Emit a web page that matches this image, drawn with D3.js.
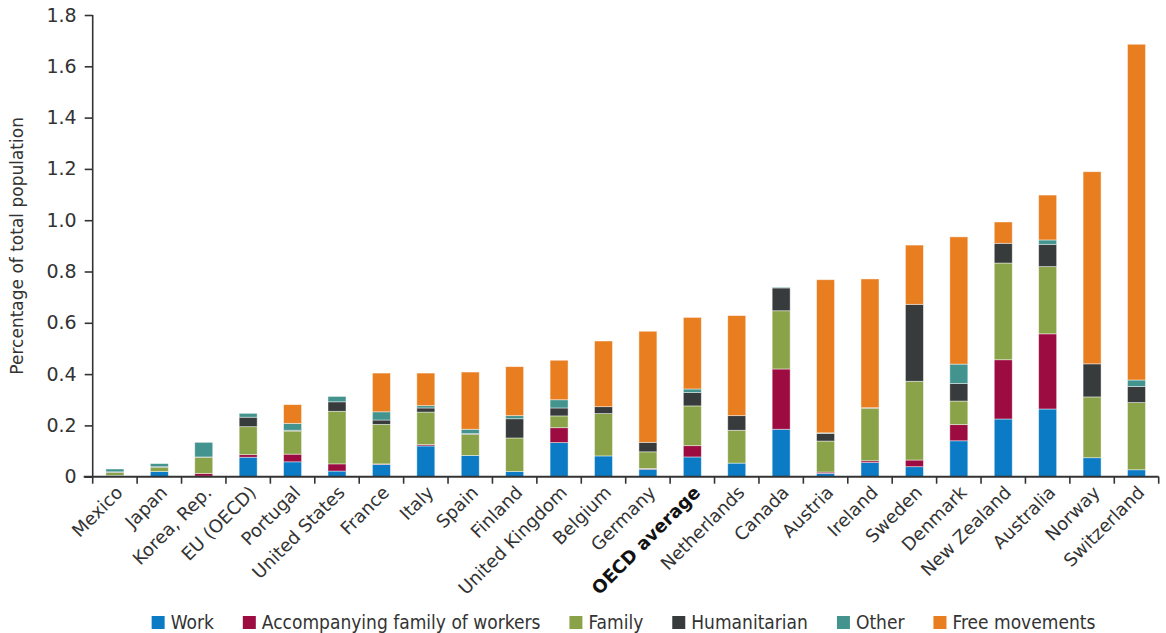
<!DOCTYPE html>
<html><head><meta charset="utf-8">
<script src="https://cdn.jsdelivr.net/npm/d3@7"></script>
<style>body{margin:0;background:#fff;} svg{display:block;}</style>
</head><body>
<svg id="chart" width="1166" height="633"></svg>
<script>
const categories = ["Mexico","Japan","Korea, Rep.","EU (OECD)","Portugal","United States","France","Italy","Spain","Finland","United Kingdom","Belgium","Germany","OECD average","Netherlands","Canada","Austria","Ireland","Sweden","Denmark","New Zealand","Australia","Norway","Switzerland"];
const work   = [0.005,0.020,0.002,0.076,0.058,0.022,0.048,0.120,0.083,0.020,0.133,0.081,0.029,0.077,0.053,0.185,0.013,0.055,0.039,0.140,0.225,0.264,0.074,0.027];
const accFam = [0,0,0.011,0.010,0.030,0.028,0.002,0.005,0,0,0.058,0,0.003,0.044,0,0.235,0.005,0.007,0.026,0.063,0.231,0.293,0,0];
const family = [0.012,0.017,0.063,0.109,0.090,0.205,0.154,0.127,0.082,0.131,0.046,0.165,0.065,0.155,0.128,0.227,0.121,0.205,0.307,0.092,0.377,0.262,0.237,0.262];
const humanitarian = [0.002,0.002,0.001,0.037,0.003,0.037,0.017,0.016,0.003,0.075,0.031,0.027,0.037,0.052,0.057,0.089,0.030,0.002,0.300,0.068,0.077,0.087,0.129,0.063];
const other  = [0.011,0.012,0.057,0.015,0.027,0.021,0.032,0.009,0.017,0.012,0.032,0,0,0.014,0,0.003,0.002,0,0,0.076,0,0.017,0,0.025];
const freeMov = [0,0,0,0,0.073,0,0.151,0.127,0.223,0.191,0.154,0.256,0.433,0.279,0.390,0,0.597,0.502,0.231,0.496,0.083,0.175,0.749,1.309];
const seriesNames = ["Work","Accompanying family of workers","Family","Humanitarian","Other","Free movements"];
const seriesColors = ["#0a7bc4","#9c0c40","#8ba348","#383b3c","#43948f","#e97e21"];
const yTicks = [0,0.2,0.4,0.6,0.8,1.0,1.2,1.4,1.6,1.8];
const yTitle = "Percentage of total population";
const boldCategory = "OECD average";

const seriesValues = [work, accFam, family, humanitarian, other, freeMov];
const rows = categories.map((c,i)=>{const o={cat:c}; seriesNames.forEach((s,j)=>o[s]=seriesValues[j][i]); return o;});
const stacked = d3.stack().keys(seriesNames)(rows);

const svg = d3.select("#chart");
const L = 92.7, R = 1158.7, T = 15, B = 476.7;
const x = d3.scaleBand().domain(categories).range([L,R]).paddingInner(0.595).paddingOuter(0.2975);
const y = d3.scaleLinear().domain([0,1.8]).range([B,T]);
const font = "'DejaVu Sans', sans-serif";

// bars
svg.append("g").selectAll("g").data(stacked).join("g")
  .attr("fill",(d,i)=>seriesColors[i])
  .selectAll("rect").data(d=>d.filter(s=>s[1]-s[0]>0)).join("rect")
  .attr("x",d=>x(d.data.cat)).attr("width",x.bandwidth())
  .attr("y",d=>y(d[1])).attr("height",d=>y(d[0])-y(d[1]))
  .attr("stroke","rgba(255,255,255,0.55)").attr("stroke-width",0.8);

// y axis
const yAxis = svg.append("g").attr("transform",`translate(${L},0)`)
  .call(d3.axisLeft(y).tickValues(yTicks).tickSize(8).tickPadding(8)
    .tickFormat(d=>d===0?"0":d3.format(".1f")(d)));
yAxis.select(".domain").attr("stroke","#333").attr("stroke-width",1.6).attr("d",`M0,${B}V${T}`);
yAxis.selectAll(".tick line").attr("stroke","#333").attr("stroke-width",1.6);
yAxis.selectAll(".tick text").attr("font-family",font).attr("font-size",19).attr("fill","#333");

// x axis line and boundary ticks
const step = x.step();
svg.append("line").attr("x1",L-9).attr("x2",R).attr("y1",B).attr("y2",B)
  .attr("stroke","#333").attr("stroke-width",2);
svg.append("g").selectAll("line").data(d3.range(categories.length+1)).join("line")
  .attr("x1",i=>L+i*step).attr("x2",i=>L+i*step).attr("y1",B).attr("y2",B+7)
  .attr("stroke","#333").attr("stroke-width",1.6);

// x labels
svg.append("g").selectAll("text").data(categories).join("text")
  .attr("transform",d=>`translate(${x(d)+x.bandwidth()/2+9},${B+17}) rotate(-45)`)
  .attr("text-anchor","end").attr("font-family",font).attr("font-size",18)
  .attr("font-weight",d=>d===boldCategory?"bold":"normal")
  .attr("fill",d=>d===boldCategory?"#111":"#333")
  .text(d=>d);

// y title
svg.append("text").attr("transform",`translate(23,${(T+B)/2}) rotate(-90)`)
  .attr("text-anchor","middle").attr("font-family",font).attr("font-size",17).attr("fill","#333")
  .text(yTitle);

// legend
const lg = svg.append("g");
const legFont = "'DejaVu Sans Condensed', 'DejaVu Sans', sans-serif";
let cx = 0;
seriesNames.forEach((n,i)=>{
  const g = lg.append("g");
  g.append("rect").attr("x",0).attr("y",-13).attr("width",13).attr("height",13).attr("fill",seriesColors[i]);
  const t = g.append("text").attr("x",19).attr("y",0).attr("font-family",legFont).attr("font-size",19)
    .attr("font-stretch","condensed").attr("fill","#333").text(n);
  const w = t.node().getComputedTextLength();
  g.attr("transform",`translate(${cx},0)`);
  cx += 19 + w + 29;
});
const totalW = cx - 29;
lg.attr("transform",`translate(${(151+1096)/2 - totalW/2},629)`);
</script>
</body></html>
